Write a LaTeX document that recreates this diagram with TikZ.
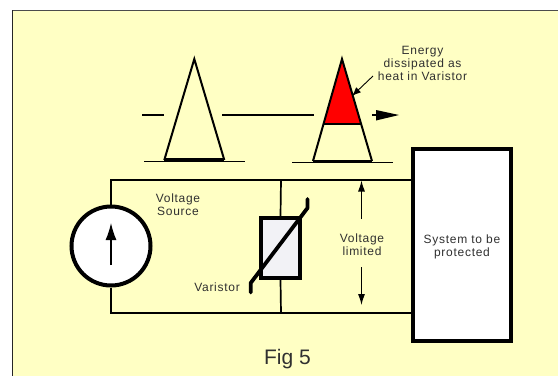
\documentclass[tikz,border=0pt]{standalone}
\usepackage{fontspec}
\setmainfont{Liberation Sans}
\newfontfamily\lblfont[LetterSpace=6]{Liberation Sans}
\definecolor{paper}{HTML}{FFFFC4}
\definecolor{ink}{HTML}{303030}
\definecolor{varfill}{HTML}{F2F2F6}
\usetikzlibrary{arrows.meta}
\tikzset{
 wire/.style={line width=1.7pt,black},
 pulse/.style={line width=2pt,black,line join=miter},
 lbl/.style={font=\lblfont\fontsize{12}{13.4}\selectfont,text=ink,align=center,inner sep=0pt},
 dim/.style={line width=1.1pt,-{Latex[length=11pt,width=7pt]}},
}
\begin{document}
\begin{tikzpicture}[x=1pt,y=-1pt]
\useasboundingbox (0,0) rectangle (558,376);
\fill[white] (0,0) rectangle (558,376);
\fill[paper] (12.5,10) rectangle (558,376);
\draw[line width=1pt,black!70] (558,10) -- (12.5,10);
\draw[line width=1pt,black!85] (12.5,10) -- (12.5,376);
% pulses
\coordinate (da) at (142,115); \coordinate (db) at (164,115);
\coordinate (dc) at (222,115); \coordinate (dd) at (314,115);
\draw[pulse,line width=2.4pt] (da) -- (db);
\draw[pulse,line width=2.4pt] (dc) -- (dd);
\draw[pulse] (164.3,160) -- (194.3,59) -- (224.3,160);
\draw[line width=3.2pt] (164.3,160) -- (224.3,160);
\draw[wire,line width=1.2pt] (144,161.5) -- (245,161.5);
\fill[red] (342,60) -- (323.5,124) -- (360.5,124) -- cycle;
\draw[pulse] (313,161) -- (342,59) -- (372,161);
\draw[pulse] (323,124) -- (361,124);
\draw[line width=2.2pt] (313,161) -- (372,161);
\draw[wire,line width=1.2pt] (292,162.5) -- (393,162.5);
\coordinate (ra) at (372,115); \coordinate (rb) at (399,115);
\draw[line width=2.4pt] (ra) -- (385,115);
\fill (376,110) -- (399,115) -- (376,120.5) -- cycle;
\coordinate (ea) at (373,76); \coordinate (eb) at (352,96);
\draw[line width=.9pt,-{Latex[length=9pt,width=7pt]}] (ea) -- (eb);
\node[lbl,font=\lblfont\fontsize{12}{12.9}\selectfont] (energy) at (422.5,63.5) {Energy\\dissipated as\\heat in Varistor};
% circuit
\node[draw=black,line width=4pt,fill=white,inner sep=0pt,rectangle,minimum height=192pt,minimum width=98pt] (sys) at (462,245) {};
\node[lbl,font=\lblfont\fontsize{12}{12.9}\selectfont] (syslabel) at (462,246.5) {System to be\\protected};
\coordinate (tl) at (111,180); \coordinate (bl) at (111,313);
\coordinate (tm) at (281,180); \coordinate (bm) at (281,313);
\node[circle,draw=black,line width=4pt,fill=white,minimum size=79pt,inner sep=0pt] (src) at (111,246) {};
\node[rectangle,draw=black,line width=4.2pt,fill=varfill,minimum width=39pt,minimum height=60pt,inner sep=0pt] (var) at (280.5,248) {};
\draw[wire] (src.north) -- (tl) -- (tm) -- (sys.west |- tm);
\draw[wire] (src.south) -- (bl) -- (bm) -- (sys.west |- bm);
\draw[wire] (tm) -- (var.north);
\draw[wire] (bm) -- (var.south);
\draw[line width=3.8pt,line cap=round,line join=round] (250.7,292.5) -- (250.7,283) -- (307.5,208) -- (307.5,199);
\coordinate (sa) at (111,265); \coordinate (sb) at (111,223);
\draw[line width=1.4pt,-{Latex[length=17pt,width=11pt]}] (sa) -- (sb);
\coordinate (ua) at (361.5,219); \coordinate (ub) at (361.5,180.5);
\coordinate (va) at (361.5,267); \coordinate (vb) at (361.5,305);
\draw[dim] (ua) -- (ub);
\draw[dim] (va) -- (vb);
\node[lbl,font=\lblfont\fontsize{12}{12.9}\selectfont] (vs) at (178,205) {Voltage\\Source};
\node[lbl,anchor=east] (vr) at (240,287) {Varistor};
\node[lbl] (vl) at (362,244.5) {Voltage\\limited};
\node[font=\fontsize{21}{24}\selectfont,text=ink,inner sep=0pt] (fig) at (287.5,359) {Fig 5};
\end{tikzpicture}
\end{document}
